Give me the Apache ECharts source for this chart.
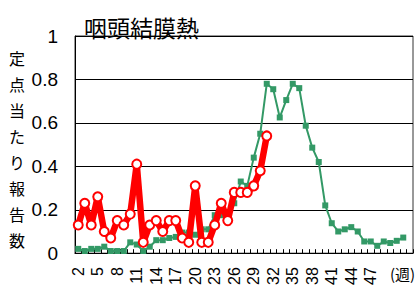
<!DOCTYPE html>
<html>
<head>
<meta charset="utf-8">
<script src="https://cdn.jsdelivr.net/npm/echarts@6/dist/echarts.min.js"></script>
<style>
  html, body { margin: 0; padding: 0; background: #fff; }
  #chart { width: 418px; height: 288px; }
</style>
</head>
<body>
<div id="chart"></div>
<script>
// 週 (categories)
var weeks = ['2', '3', '4', '5', '6', '7', '8', '9', '10', '11', '12', '13', '14', '15', '16', '17', '18', '19', '20', '21',
  '22', '23', '24', '25', '26', '27', '28', '29', '30', '31', '32', '33', '34', '35', '36', '37', '38', '39', '40', '41',
  '42', '43', '44', '45', '46', '47', '48', '49', '50', '51', '52', '53'];
var labelWeeks = ['2', '5', '8', '11', '14', '17', '20', '23', '26', '29', '32', '35', '38', '41', '44', '47'];

// 今年 (red)
var thisYear = [0.13, 0.23, 0.13, 0.26, 0.10, 0.07, 0.15, 0.13, 0.18, 0.41,
  0.05, 0.13, 0.15, 0.10, 0.15, 0.15, 0.07, 0.05, 0.31, 0.05,
  0.05, 0.13, 0.23, 0.15, 0.28, 0.28, 0.28, 0.31, 0.38, 0.54];

// 前年 (green)
var lastYear = [0.02, 0.01, 0.02, 0.02, 0.03, 0.01, 0.01, 0.01, 0.05, 0.04,
  0.01, 0.03, 0.06, 0.06, 0.07, 0.075, 0.095, 0.095, 0.085, 0.11,
  0.11, 0.175, 0.175, 0.16, 0.23, 0.33, 0.31, 0.44, 0.55, 0.78,
  0.755, 0.625, 0.705, 0.78, 0.76, 0.587, 0.486, 0.42, 0.22, 0.138,
  0.10, 0.11, 0.12, 0.10, 0.054, 0.054, 0.034, 0.054, 0.047, 0.057, 0.072];

var yLabelChars = ['定', '点', '当', 'た', 'り', '報', '告', '数'];

var chart = echarts.init(document.getElementById('chart'), null, { renderer: 'svg' });
var font = 'Liberation Sans, Arial, sans-serif';

var option = {
  animation: false,
  title: {
    text: '咽頭結膜熱',
    left: 79,
    top: 10,
    textStyle: { fontSize: 23, fontWeight: 'normal', color: '#000', fontFamily: 'Noto Sans CJK JP' }
  },
  grid: { left: 75, right: 5, top: 36, bottom: 34, show: true, borderColor: '#333', borderWidth: 1 },
  graphic: [
    {
      type: 'text', left: 9, top: 45,
      style: { text: yLabelChars.join('\n'), fontSize: 16, lineHeight: 26, fill: '#000', fontFamily: 'Noto Sans CJK JP' }
    },
    {
      type: 'text', left: 390, top: 266,
      style: { text: '(週)', fontSize: 15, fill: '#000', fontFamily: 'Noto Sans CJK JP' }
    }
  ],
  xAxis: {
    type: 'category',
    data: weeks,
    boundaryGap: true,
    axisLine: { lineStyle: { color: '#000', width: 1 } },
    axisTick: { show: true, inside: true, length: 4, interval: 0, lineStyle: { color: '#000' } },
    axisLabel: {
      rotate: 90,
      interval: function (index, value) { return labelWeeks.indexOf(String(value)) >= 0; },
      fontSize: 16, color: '#000', fontFamily: font, margin: 14
    },
    splitLine: { show: false }
  },
  yAxis: {
    type: 'value',
    min: 0, max: 1, interval: 0.2,
    axisLine: { show: true, lineStyle: { color: '#000' } },
    axisTick: { show: false },
    axisLabel: { fontSize: 19, color: '#000', fontFamily: font, margin: 17 },
    splitLine: { lineStyle: { color: '#000', width: 1 } }
  },
  series: [
    {
      name: '前年', type: 'line', data: lastYear, z: 2,
      symbol: 'rect', symbolSize: 6, showAllSymbol: true,
      lineStyle: { color: '#339966', width: 2 },
      itemStyle: { color: '#339966' }
    },
    {
      name: '今年', type: 'line', data: thisYear, z: 3,
      symbol: 'circle', symbolSize: 9, showAllSymbol: true,
      lineStyle: { color: '#ff0000', width: 6.5 },
      itemStyle: { color: '#fff', borderColor: '#ff0000', borderWidth: 2 }
    }
  ]
};

chart.setOption(option);
</script>
</body>
</html>
